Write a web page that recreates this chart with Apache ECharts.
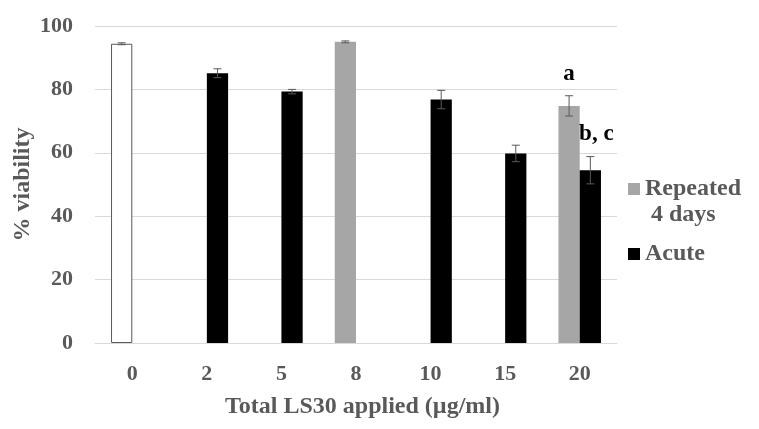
<!DOCTYPE html>
<html>
<head>
<meta charset="utf-8">
<script src="https://cdn.jsdelivr.net/npm/echarts@6/dist/echarts.min.js"></script>
<style>html,body{margin:0;padding:0;background:#fff}#c{width:759px;height:429px}</style>
</head>
<body>
<div id="c"></div>
<script>
const categories = ['0', '2', '5', '8', '10', '15', '20'];
const repeatedValues = [94.4, null, null, 95.0, null, null, 74.8];
const repeatedErrors = [0.3, null, null, 0.3, null, null, 3.2];
const acuteValues = [null, 85.1, 79.3, null, 76.8, 59.8, 54.5];
const acuteErrors = [null, 1.4, 0.7, null, 2.9, 2.6, 4.3];
const yTicks = [0, 20, 40, 60, 80, 100];
const annotations = { repeated: { 6: 'a' }, acute: { 6: 'b, c' } };

const FONT = 'Liberation Serif';
const GREY_TEXT = '#595959';

function barData(values, notes, extra) {
  return values.map((v, i) => {
    if (v == null) return '-';
    const item = { value: v };
    if (notes[i]) item.label = Object.assign({ show: true, formatter: notes[i] }, extra);
    return item;
  });
}

const repData = barData(repeatedValues, annotations.repeated, { position: 'top', distance: 20 });
repData[0] = { value: repeatedValues[0], itemStyle: { color: '#ffffff', borderColor: '#595959', borderWidth: 1 } };
const acuteData = barData(acuteValues, annotations.acute, { position: 'top', distance: 25, offset: [6, 0] });

const errData = [];
repeatedValues.forEach((v, i) => { if (v != null) errData.push([i, v, repeatedErrors[i], -1]); });
acuteValues.forEach((v, i) => { if (v != null) errData.push([i, v, acuteErrors[i], 1]); });

const legendText = { fontFamily: FONT, fontWeight: 'bold', fontSize: 24, color: GREY_TEXT, lineHeight: 26 };

const chart = echarts.init(document.getElementById('c'));
chart.setOption({
  animation: false,
  textStyle: { fontFamily: FONT },
  grid: { left: 95, right: 142, top: 26, bottom: 86, containLabel: false, outerBoundsMode: 'none' },
  legend: [
    {
      data: ['Repeated 4 days'], orient: 'vertical', left: 628, top: 176, padding: 0,
      icon: 'path://M0,0h12v12h-12z M0,37.99h0.01v0.01h-0.01z',
      itemWidth: 12, itemHeight: 38, selectedMode: false,
      formatter: () => 'Repeated\n 4 days',
      textStyle: legendText
    },
    {
      data: ['Acute'], orient: 'vertical', left: 628, top: 241, padding: 0,
      icon: 'rect', itemWidth: 12, itemHeight: 12, selectedMode: false,
      textStyle: legendText
    }
  ],
  xAxis: {
    type: 'category', data: categories,
    axisLine: { lineStyle: { color: '#d9d9d9', width: 1 } },
    axisTick: { show: false },
    axisLabel: { fontFamily: FONT, fontWeight: 'bold', fontSize: 22, color: GREY_TEXT, margin: 20 },
    name: 'Total LS30 applied (µg/ml)', nameLocation: 'middle', nameGap: 52,
    nameTextStyle: { fontFamily: FONT, fontWeight: 'bold', fontSize: 24, color: GREY_TEXT, padding: [0, 0, 0, 13] }
  },
  yAxis: {
    type: 'value', min: 0, max: 100, interval: 20,
    axisLine: { show: false }, axisTick: { show: false },
    splitLine: { lineStyle: { color: '#d9d9d9', width: 1 } },
    axisLabel: { fontFamily: FONT, fontWeight: 'bold', fontSize: 22, color: GREY_TEXT, margin: 22,
      formatter: v => yTicks.includes(v) ? String(v) : '' },
    name: '% viability', nameLocation: 'middle', nameGap: 60, nameMoveOverlap: false,
    nameTextStyle: { fontFamily: FONT, fontWeight: 'bold', fontSize: 24, color: GREY_TEXT }
  },
  series: [
    {
      name: 'Repeated 4 days', type: 'bar', data: repData,
      barGap: '0%', barCategoryGap: '43%',
      itemStyle: { color: '#a6a6a6' },
      label: { fontFamily: FONT, fontWeight: 'bold', fontSize: 23, color: '#000' }
    },
    {
      name: 'Acute', type: 'bar', data: acuteData,
      barGap: '0%', barCategoryGap: '43%',
      itemStyle: { color: '#000000' },
      label: { fontFamily: FONT, fontWeight: 'bold', fontSize: 23, color: '#000' }
    },
    {
      name: 'err', type: 'custom', data: errData, z: 10,
      encode: { x: 0, y: 1 },
      renderItem: (params, api) => {
        const cat = api.value(0), val = api.value(1), err = api.value(2), side = api.value(3);
        const band = api.size([1, 0])[0];
        const barW = band * (1 - 0.43) / 2;
        const top = api.coord([cat, val + err]);
        const bot = api.coord([cat, val - err]);
        const x = top[0] + side * barW / 2;
        const hw = 4;
        const style = { stroke: '#595959', lineWidth: 1, fill: null };
        return {
          type: 'group',
          children: [
            { type: 'line', shape: { x1: x, y1: top[1], x2: x, y2: bot[1] }, style },
            { type: 'line', shape: { x1: x - hw, y1: top[1], x2: x + hw, y2: top[1] }, style },
            { type: 'line', shape: { x1: x - hw, y1: bot[1], x2: x + hw, y2: bot[1] }, style }
          ]
        };
      }
    }
  ]
});
</script>
</body>
</html>
